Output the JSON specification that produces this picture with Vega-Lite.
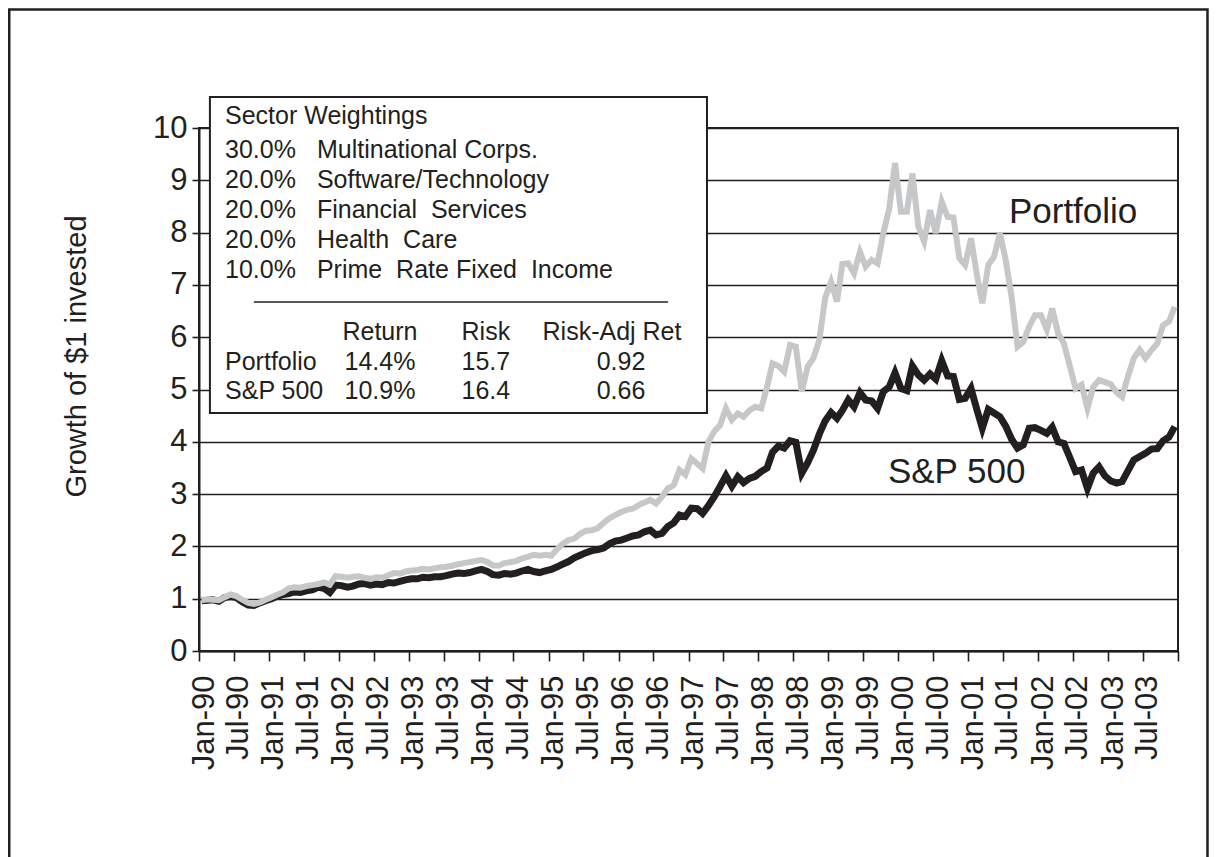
{
  "$schema": "https://vega.github.io/schema/vega-lite/v6.json",
  "width": 979,
  "height": 523,
  "autosize": {"type": "none"},
  "padding": {"left": 199, "top": 128, "right": 39, "bottom": 206},
  "background": "white",
  "config": {
    "view": {"stroke": "#231f20", "strokeWidth": 2},
    "font": "Liberation Sans",
    "text": {"font": "Liberation Sans", "color": "#231f20"}
  },
  "datasets": {
    "series": [
      {"d":"1990-01-15","s":0.96,"p":0.97},{"d":"1990-02-15","s":0.97,"p":0.99},{"d":"1990-03-15","s":0.98,"p":0.98},{"d":"1990-04-15","s":0.95,"p":0.97},{"d":"1990-05-15","s":1.02,"p":1.03},{"d":"1990-06-15","s":1.04,"p":1.08},{"d":"1990-07-15","s":1.02,"p":1.05},{"d":"1990-08-15","s":0.94,"p":0.98},{"d":"1990-09-15","s":0.88,"p":0.92},{"d":"1990-10-15","s":0.87,"p":0.90},{"d":"1990-11-15","s":0.92,"p":0.93},{"d":"1990-12-15","s":0.96,"p":0.98},
      {"d":"1991-01-15","s":1.00,"p":1.03},{"d":"1991-02-15","s":1.05,"p":1.08},{"d":"1991-03-15","s":1.08,"p":1.12},{"d":"1991-04-15","s":1.10,"p":1.20},{"d":"1991-05-15","s":1.13,"p":1.22},{"d":"1991-06-15","s":1.12,"p":1.21},{"d":"1991-07-15","s":1.15,"p":1.24},{"d":"1991-08-15","s":1.17,"p":1.26},{"d":"1991-09-15","s":1.22,"p":1.28},{"d":"1991-10-15","s":1.20,"p":1.31},{"d":"1991-11-15","s":1.12,"p":1.27},{"d":"1991-12-15","s":1.26,"p":1.43},
      {"d":"1992-01-15","s":1.25,"p":1.42},{"d":"1992-02-15","s":1.22,"p":1.40},{"d":"1992-03-15","s":1.24,"p":1.42},{"d":"1992-04-15","s":1.28,"p":1.43},{"d":"1992-05-15","s":1.29,"p":1.40},{"d":"1992-06-15","s":1.26,"p":1.38},{"d":"1992-07-15","s":1.28,"p":1.41},{"d":"1992-08-15","s":1.27,"p":1.40},{"d":"1992-09-15","s":1.31,"p":1.45},{"d":"1992-10-15","s":1.30,"p":1.49},{"d":"1992-11-15","s":1.33,"p":1.48},{"d":"1992-12-15","s":1.36,"p":1.52},
      {"d":"1993-01-15","s":1.38,"p":1.54},{"d":"1993-02-15","s":1.38,"p":1.55},{"d":"1993-03-15","s":1.41,"p":1.57},{"d":"1993-04-15","s":1.40,"p":1.56},{"d":"1993-05-15","s":1.42,"p":1.58},{"d":"1993-06-15","s":1.42,"p":1.60},{"d":"1993-07-15","s":1.44,"p":1.61},{"d":"1993-08-15","s":1.47,"p":1.63},{"d":"1993-09-15","s":1.49,"p":1.66},{"d":"1993-10-15","s":1.48,"p":1.68},{"d":"1993-11-15","s":1.50,"p":1.70},{"d":"1993-12-15","s":1.53,"p":1.72},
      {"d":"1994-01-15","s":1.56,"p":1.74},{"d":"1994-02-15","s":1.52,"p":1.70},{"d":"1994-03-15","s":1.46,"p":1.64},{"d":"1994-04-15","s":1.45,"p":1.63},{"d":"1994-05-15","s":1.48,"p":1.68},{"d":"1994-06-15","s":1.47,"p":1.70},{"d":"1994-07-15","s":1.49,"p":1.72},{"d":"1994-08-15","s":1.53,"p":1.77},{"d":"1994-09-15","s":1.56,"p":1.80},{"d":"1994-10-15","s":1.52,"p":1.84},{"d":"1994-11-15","s":1.50,"p":1.82},{"d":"1994-12-15","s":1.53,"p":1.84},
      {"d":"1995-01-15","s":1.56,"p":1.82},{"d":"1995-02-15","s":1.61,"p":1.95},{"d":"1995-03-15","s":1.66,"p":2.05},{"d":"1995-04-15","s":1.71,"p":2.12},{"d":"1995-05-15","s":1.78,"p":2.15},{"d":"1995-06-15","s":1.83,"p":2.24},{"d":"1995-07-15","s":1.88,"p":2.30},{"d":"1995-08-15","s":1.92,"p":2.31},{"d":"1995-09-15","s":1.94,"p":2.35},{"d":"1995-10-15","s":1.97,"p":2.45},{"d":"1995-11-15","s":2.05,"p":2.54},{"d":"1995-12-15","s":2.10,"p":2.60},
      {"d":"1996-01-15","s":2.12,"p":2.66},{"d":"1996-02-15","s":2.16,"p":2.70},{"d":"1996-03-15","s":2.20,"p":2.72},{"d":"1996-04-15","s":2.22,"p":2.79},{"d":"1996-05-15","s":2.28,"p":2.84},{"d":"1996-06-15","s":2.31,"p":2.89},{"d":"1996-07-15","s":2.22,"p":2.82},{"d":"1996-08-15","s":2.25,"p":2.95},{"d":"1996-09-15","s":2.38,"p":3.11},{"d":"1996-10-15","s":2.45,"p":3.17},{"d":"1996-11-15","s":2.60,"p":3.46},{"d":"1996-12-15","s":2.57,"p":3.37},
      {"d":"1997-01-15","s":2.73,"p":3.68},{"d":"1997-02-15","s":2.72,"p":3.58},{"d":"1997-03-15","s":2.63,"p":3.49},{"d":"1997-04-15","s":2.78,"p":4.00},{"d":"1997-05-15","s":2.95,"p":4.20},{"d":"1997-06-15","s":3.15,"p":4.32},{"d":"1997-07-15","s":3.35,"p":4.64},{"d":"1997-08-15","s":3.15,"p":4.42},{"d":"1997-09-15","s":3.33,"p":4.54},{"d":"1997-10-15","s":3.22,"p":4.48},{"d":"1997-11-15","s":3.30,"p":4.60},{"d":"1997-12-15","s":3.34,"p":4.67},
      {"d":"1998-01-15","s":3.43,"p":4.64},{"d":"1998-02-15","s":3.50,"p":5.05},{"d":"1998-03-15","s":3.80,"p":5.50},{"d":"1998-04-15","s":3.92,"p":5.45},{"d":"1998-05-15","s":3.88,"p":5.34},{"d":"1998-06-15","s":4.02,"p":5.85},{"d":"1998-07-15","s":3.99,"p":5.82},{"d":"1998-08-15","s":3.40,"p":4.96},{"d":"1998-09-15","s":3.60,"p":5.44},{"d":"1998-10-15","s":3.84,"p":5.60},{"d":"1998-11-15","s":4.15,"p":5.95},{"d":"1998-12-15","s":4.40,"p":6.75},
      {"d":"1999-01-15","s":4.56,"p":7.06},{"d":"1999-02-15","s":4.45,"p":6.68},{"d":"1999-03-15","s":4.60,"p":7.40},{"d":"1999-04-15","s":4.80,"p":7.41},{"d":"1999-05-15","s":4.67,"p":7.22},{"d":"1999-06-15","s":4.94,"p":7.63},{"d":"1999-07-15","s":4.80,"p":7.35},{"d":"1999-08-15","s":4.78,"p":7.48},{"d":"1999-09-15","s":4.64,"p":7.41},{"d":"1999-10-15","s":4.96,"p":7.99},{"d":"1999-11-15","s":5.05,"p":8.46},{"d":"1999-12-15","s":5.32,"p":9.33},
      {"d":"2000-01-15","s":5.02,"p":8.40},{"d":"2000-02-15","s":4.98,"p":8.40},{"d":"2000-03-15","s":5.45,"p":9.13},{"d":"2000-04-15","s":5.28,"p":8.11},{"d":"2000-05-15","s":5.18,"p":7.83},{"d":"2000-06-15","s":5.30,"p":8.43},{"d":"2000-07-15","s":5.20,"p":7.99},{"d":"2000-08-15","s":5.55,"p":8.59},{"d":"2000-09-15","s":5.26,"p":8.30},{"d":"2000-10-15","s":5.25,"p":8.29},{"d":"2000-11-15","s":4.81,"p":7.51},{"d":"2000-12-15","s":4.83,"p":7.38},
      {"d":"2001-01-15","s":5.02,"p":7.89},{"d":"2001-02-15","s":4.61,"p":7.19},{"d":"2001-03-15","s":4.26,"p":6.65},{"d":"2001-04-15","s":4.62,"p":7.38},{"d":"2001-05-15","s":4.55,"p":7.54},{"d":"2001-06-15","s":4.48,"p":7.99},{"d":"2001-07-15","s":4.30,"p":7.48},{"d":"2001-08-15","s":4.05,"p":6.77},{"d":"2001-09-15","s":3.88,"p":5.82},{"d":"2001-10-15","s":3.94,"p":5.91},{"d":"2001-11-15","s":4.26,"p":6.20},{"d":"2001-12-15","s":4.27,"p":6.42},
      {"d":"2002-01-15","s":4.22,"p":6.42},{"d":"2002-02-15","s":4.16,"p":6.14},{"d":"2002-03-15","s":4.28,"p":6.55},{"d":"2002-04-15","s":4.00,"p":6.07},{"d":"2002-05-15","s":3.97,"p":5.88},{"d":"2002-06-15","s":3.70,"p":5.45},{"d":"2002-07-15","s":3.43,"p":5.02},{"d":"2002-08-15","s":3.46,"p":5.09},{"d":"2002-09-15","s":3.11,"p":4.64},{"d":"2002-10-15","s":3.40,"p":5.05},{"d":"2002-11-15","s":3.52,"p":5.18},{"d":"2002-12-15","s":3.35,"p":5.14},
      {"d":"2003-01-15","s":3.25,"p":5.10},{"d":"2003-02-15","s":3.21,"p":4.94},{"d":"2003-03-15","s":3.24,"p":4.86},{"d":"2003-04-15","s":3.45,"p":5.25},{"d":"2003-05-15","s":3.65,"p":5.60},{"d":"2003-06-15","s":3.72,"p":5.76},{"d":"2003-07-15","s":3.78,"p":5.60},{"d":"2003-08-15","s":3.86,"p":5.75},{"d":"2003-09-15","s":3.87,"p":5.88},{"d":"2003-10-15","s":4.02,"p":6.23},{"d":"2003-11-15","s":4.09,"p":6.30},{"d":"2003-12-15","s":4.29,"p":6.58}
    ]
  },
  "layer": [
    {
      "data": {"name": "series"},
      "mark": {"type": "line", "color": "#231f20", "strokeWidth": 7, "clip": true},
      "encoding": {
        "x": {
          "field": "d", "type": "temporal",
          "scale": {"type": "utc", "nice": false, "domain": [{"year": 1990, "month": 1, "date": 1, "utc": true}, {"year": 2004, "month": 1, "date": 1, "utc": true}]},
          "axis": {
            "title": null,
            "tickCount": {"interval": "month", "step": 6},
            "labelExpr": "utcyear(datum.value) >= 2004 ? '' : utcFormat(datum.value, '%b-%y')",
            "labelAngle": 270, "labelAlign": "right", "labelBaseline": "middle",
            "labelFont": "Liberation Sans", "labelFontSize": 31, "labelColor": "#231f20",
            "labelPadding": 14, "labelOffset": 5, "labelOverlap": false, "labelFlush": false, "labelBound": false,
            "tickSize": 10, "tickColor": "#231f20", "tickWidth": 1.6,
            "domainColor": "#231f20", "domainWidth": 2, "grid": false
          }
        },
        "y": {
          "field": "s", "type": "quantitative",
          "title": "Growth of $1 invested",
          "scale": {"domain": [0, 10], "nice": false},
          "axis": {
            "values": [0, 1, 2, 3, 4, 5, 6, 7, 8, 9, 10],
            "grid": true, "gridColor": "#231f20", "gridWidth": 1.6,
            "domainColor": "#231f20", "domainWidth": 2,
            "tickColor": "#231f20", "tickWidth": 1.6, "tickSize": 7,
            "labelFont": "Liberation Sans", "labelFontSize": 31, "labelColor": "#231f20", "labelPadding": 5,
            "titleFont": "Liberation Sans", "titleFontSize": 29, "titleFontWeight": "normal", "titleColor": "#231f20",
            "titleAngle": 270, "titleAlign": "center", "titleBaseline": "alphabetic",
            "titleX": -114, "titleY": 228
          }
        }
      }
    },
    {
      "data": {"name": "series"},
      "mark": {"type": "line", "color": "#c6c7c9", "strokeWidth": 6, "clip": true},
      "encoding": {
        "x": {"field": "d", "type": "temporal"},
        "y": {"field": "p", "type": "quantitative", "title": "Growth of $1 invested"}
      }
    },
    {
      "data": {"values": [{}]},
      "mark": {"type": "rect", "filled": false, "stroke": "#231f20", "strokeWidth": 2.5},
      "encoding": {
        "x": {"datum": {"year": 1987, "month": 4, "date": 16, "utc": true}, "type": "temporal"},
        "x2": {"datum": {"year": 2004, "month": 6, "date": 3, "utc": true}},
        "y": {"datum": 12.266, "type": "quantitative"},
        "y2": {"datum": -5}
      }
    },
    {
      "data": {"values": [{}]},
      "mark": {"type": "rect", "fill": "white", "stroke": "#231f20", "strokeWidth": 2},
      "encoding": {
        "x": {"datum": {"year": 1990, "month": 2, "date": 27, "utc": true}, "type": "temporal"},
        "x2": {"datum": {"year": 1997, "month": 4, "date": 7, "utc": true}},
        "y": {"datum": 10.593, "type": "quantitative"},
        "y2": {"datum": 4.551}
      }
    },
    {
      "data": {"values": [{}]},
      "mark": {"type": "rule", "color": "#231f20", "strokeWidth": 1.6},
      "encoding": {
        "x": {"datum": {"year": 1990, "month": 10, "date": 15, "utc": true}, "type": "temporal"},
        "x2": {"datum": {"year": 1996, "month": 9, "date": 15, "utc": true}},
        "y": {"datum": 6.673, "type": "quantitative"}
      }
    },
    {
      "data": {"values": [{"t": "Sector Weightings"}]},
      "mark": {"type": "text", "align": "left", "baseline": "alphabetic", "fontSize": 25},
      "encoding": {
        "x": {"datum": {"year": 1990, "month": 5, "date": 17, "utc": true}, "type": "temporal"},
        "y": {"datum": 10.076, "type": "quantitative"},
        "text": {"field": "t"}
      }
    },
    {
      "data": {"values": [{}]},
      "mark": {"type": "text", "align": "left", "baseline": "alphabetic", "fontSize": 25, "lineHeight": 30},
      "encoding": {
        "x": {"datum": {"year": 1990, "month": 5, "date": 17, "utc": true}, "type": "temporal"},
        "y": {"datum": 9.426, "type": "quantitative"},
        "text": {"value": ["30.0%", "20.0%", "20.0%", "20.0%", "10.0%"]}
      }
    },
    {
      "data": {"values": [{}]},
      "mark": {"type": "text", "align": "left", "baseline": "alphabetic", "fontSize": 25, "lineHeight": 30},
      "encoding": {
        "x": {"datum": {"year": 1991, "month": 9, "date": 9, "utc": true}, "type": "temporal"},
        "y": {"datum": 9.426, "type": "quantitative"},
        "text": {"value": ["Multinational Corps.", "Software/Technology", "Financial\u00a0 Services", "Health\u00a0 Care", "Prime\u00a0 Rate Fixed\u00a0 Income"]}
      }
    },
    {
      "data": {"values": [{}]},
      "mark": {"type": "text", "align": "left", "baseline": "alphabetic", "fontSize": 25, "lineHeight": 29.5},
      "encoding": {
        "x": {"datum": {"year": 1990, "month": 5, "date": 17, "utc": true}, "type": "temporal"},
        "y": {"datum": 5.373, "type": "quantitative"},
        "text": {"value": ["Portfolio", "S&P 500"]}
      }
    },
    {
      "data": {"values": [{}]},
      "mark": {"type": "text", "align": "center", "baseline": "alphabetic", "fontSize": 25, "lineHeight": 29.5},
      "encoding": {
        "x": {"datum": {"year": 1992, "month": 8, "date": 3, "utc": true}, "type": "temporal"},
        "y": {"datum": 5.946, "type": "quantitative"},
        "text": {"value": ["Return", "14.4%", "10.9%"]}
      }
    },
    {
      "data": {"values": [{}]},
      "mark": {"type": "text", "align": "center", "baseline": "alphabetic", "fontSize": 25, "lineHeight": 29.5},
      "encoding": {
        "x": {"datum": {"year": 1994, "month": 2, "date": 7, "utc": true}, "type": "temporal"},
        "y": {"datum": 5.946, "type": "quantitative"},
        "text": {"value": ["Risk", "15.7", "16.4"]}
      }
    },
    {
      "data": {"values": [{}]},
      "mark": {"type": "text", "align": "center", "baseline": "alphabetic", "fontSize": 25},
      "encoding": {
        "x": {"datum": {"year": 1995, "month": 11, "date": 28, "utc": true}, "type": "temporal"},
        "y": {"datum": 5.946, "type": "quantitative"},
        "text": {"value": "Risk-Adj Ret"}
      }
    },
    {
      "data": {"values": [{}]},
      "mark": {"type": "text", "align": "center", "baseline": "alphabetic", "fontSize": 25, "lineHeight": 29.5},
      "encoding": {
        "x": {"datum": {"year": 1996, "month": 1, "date": 14, "utc": true}, "type": "temporal"},
        "y": {"datum": 5.373, "type": "quantitative"},
        "text": {"value": ["0.92", "0.66"]}
      }
    },
    {
      "data": {"values": [{"t": "Portfolio"}]},
      "mark": {"type": "text", "align": "left", "baseline": "alphabetic", "fontSize": 35},
      "encoding": {
        "x": {"datum": {"year": 2001, "month": 8, "date": 1, "utc": true}, "type": "temporal"},
        "y": {"datum": 8.184, "type": "quantitative"},
        "text": {"field": "t"}
      }
    },
    {
      "data": {"values": [{"t": "S&P 500"}]},
      "mark": {"type": "text", "align": "left", "baseline": "alphabetic", "fontSize": 35},
      "encoding": {
        "x": {"datum": {"year": 1999, "month": 11, "date": 8, "utc": true}, "type": "temporal"},
        "y": {"datum": 3.212, "type": "quantitative"},
        "text": {"field": "t"}
      }
    }
  ]
}
